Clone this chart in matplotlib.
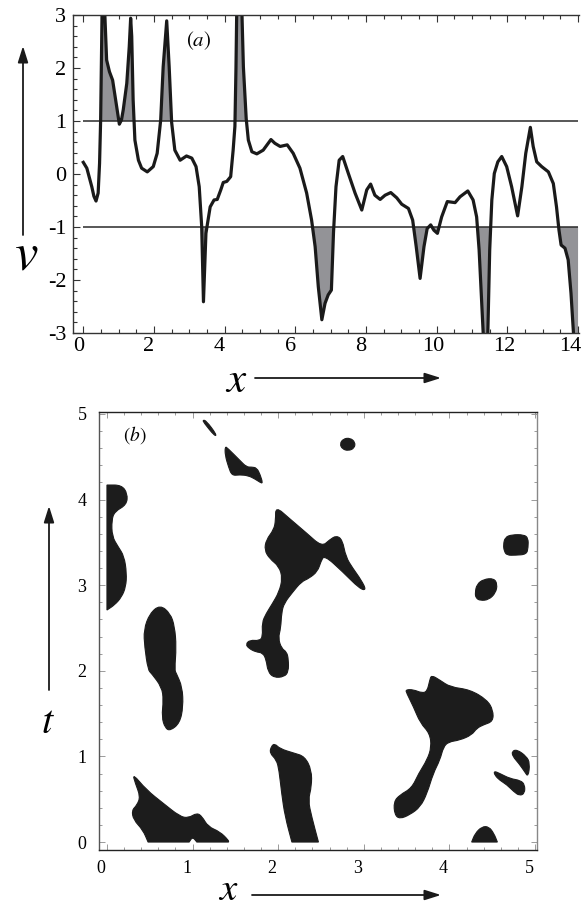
import numpy as np
import matplotlib.pyplot as plt
from matplotlib.patches import FancyArrowPatch, PathPatch
from matplotlib.path import Path
from matplotlib.transforms import ScaledTranslation

plt.rcParams['font.family'] = 'Liberation Serif'
plt.rcParams['mathtext.fontset'] = 'stix'

# ---- panel (a): v(x)
x_a = [0.00, 0.10, 0.24, 0.30, 0.36, 0.42, 0.46, 0.49, 0.53, 0.57, 0.61, 0.66,
       0.74, 0.83, 0.93, 1.02, 1.08, 1.13, 1.23, 1.30, 1.34, 1.37, 1.41, 1.46,
       1.56, 1.65, 1.81, 1.98, 2.09, 2.19, 2.26, 2.36, 2.43, 2.50, 2.59, 2.74,
       2.92, 3.07, 3.19, 3.28, 3.35, 3.40, 3.47, 3.59, 3.70, 3.79, 3.89, 3.96,
       4.06, 4.17, 4.24, 4.29, 4.32, 4.34, 4.41, 4.49, 4.53, 4.61, 4.67, 4.77,
       4.91, 5.09, 5.31, 5.42, 5.57, 5.77, 5.94, 6.13, 6.32, 6.46, 6.56, 6.65,
       6.75, 6.84, 6.93, 7.02, 7.08, 7.15, 7.24, 7.34, 7.50, 7.69, 7.88, 8.02,
       8.13, 8.25, 8.40, 8.54, 8.70, 8.87, 9.01, 9.20, 9.32, 9.42, 9.53, 9.64,
       9.73, 9.83, 9.92, 10.02, 10.14, 10.30, 10.52, 10.66, 10.88, 11.03, 11.13,
       11.20, 11.27, 11.33, 11.38, 11.44, 11.50, 11.56, 11.63, 11.73, 11.84,
       11.98, 12.12, 12.29, 12.41, 12.52, 12.65, 12.73, 12.83, 12.97, 13.16,
       13.30, 13.39, 13.46, 13.52, 13.63, 13.72, 13.80, 13.87, 13.94, 14.00]
v_a = [0.22, 0.11, -0.24, -0.42, -0.51, -0.36, 0.20, 1.00, 3.00, 4.30, 3.00, 2.15,
       1.93, 1.77, 1.33, 0.94, 1.02, 1.21, 1.71, 2.40, 2.94, 2.60, 1.40, 0.64,
       0.26, 0.11, 0.04, 0.14, 0.39, 1.02, 2.02, 2.89, 2.02, 0.97, 0.45, 0.26,
       0.34, 0.30, 0.14, -0.24, -0.99, -2.41, -1.12, -0.62, -0.49, -0.48, -0.30, -0.16,
       -0.14, -0.05, 0.45, 0.90, 2.00, 3.00, 5.00, 3.00, 2.02, 1.04, 0.64, 0.42,
       0.38, 0.45, 0.65, 0.58, 0.52, 0.55, 0.39, 0.11, -0.36, -0.87, -1.37, -2.13,
       -2.75, -2.44, -2.28, -2.19, -1.10, -0.24, 0.26, 0.33, 0.01, -0.36, -0.68, -0.30,
       -0.19, -0.40, -0.48, -0.40, -0.35, -0.45, -0.57, -0.65, -0.87, -1.37, -1.97, -1.37,
       -1.03, -0.96, -1.06, -1.12, -0.81, -0.52, -0.54, -0.43, -0.32, -0.49, -0.81,
       -1.43, -2.38, -3.20, -4.00, -3.20, -1.43, -0.49, 0.01, 0.23, 0.33,
       0.14, -0.24, -0.79, -0.24, 0.39, 0.88, 0.52, 0.23, 0.14, 0.04,
       -0.18, -0.62, -1.06, -1.34, -1.40, -1.62, -2.25, -3.00, -3.80, -4.30]
thresholds = [1, -1]
xticks_a = [0, 2, 4, 6, 8, 10, 12, 14]
yticks_a = [-3, -2, -1, 0, 1, 2, 3]
ylabels_a = ['-3', '-2', '-1', '0', '1', '2', '3']

# ---- panel (b): black regions, outlines as (x, t) points
blob_left = [(0.00, 4.17), (0.17, 4.17), (0.24, 4.07), (0.23, 3.94), (0.09, 3.86),
             (0.055, 3.76), (0.06, 3.57), (0.13, 3.45), (0.20, 3.34), (0.23, 3.14),
             (0.22, 2.98), (0.17, 2.86), (0.09, 2.77), (0.00, 2.71)]
blob_mid_left = [(0.62, 2.77), (0.50, 2.67), (0.43, 2.48), (0.44, 2.28), (0.48, 2.01),
                 (0.52, 1.97), (0.64, 1.81), (0.66, 1.66), (0.64, 1.46), (0.68, 1.33),
                 (0.74, 1.30), (0.85, 1.39), (0.89, 1.58), (0.88, 1.81), (0.81, 1.97),
                 (0.79, 2.01), (0.81, 2.28), (0.79, 2.52), (0.74, 2.67)]
blob_low_left = [(0.30, 0.80), (0.46, 0.61), (0.66, 0.45), (0.85, 0.30), (0.95, 0.28),
                 (1.05, 0.34), (1.11, 0.30), (1.18, 0.18), (1.32, 0.12), (1.42, 0.02),
                 (1.42, 0.00), (1.05, 0.00), (1.00, 0.06), (0.96, 0.00), (0.48, 0.00),
                 (0.42, 0.14), (0.31, 0.26), (0.29, 0.37), (0.35, 0.43), (0.39, 0.53),
                 (0.33, 0.69)]
blob_low_mid = [(1.96, 1.15), (2.02, 1.09), (2.18, 1.04), (2.31, 1.00), (2.39, 0.84),
                (2.39, 0.65), (2.35, 0.49), (2.39, 0.30), (2.47, 0.00), (2.16, 0.00),
                (2.08, 0.30), (2.04, 0.57), (2.01, 0.84), (1.98, 0.96), (1.90, 1.04),
                (1.92, 1.12)]
blob_centre = [(1.97, 3.92), (2.13, 3.78), (2.33, 3.61), (2.51, 3.45), (2.60, 3.53),
               (2.68, 3.58), (2.75, 3.53), (2.79, 3.33), (2.87, 3.20), (2.97, 3.06),
               (3.03, 2.94), (2.95, 2.96), (2.75, 3.16), (2.54, 3.35), (2.50, 3.28),
               (2.46, 3.16), (2.36, 3.08), (2.27, 3.04), (2.17, 2.92), (2.07, 2.79),
               (2.04, 2.68), (2.03, 2.50), (2.00, 2.38), (2.04, 2.26), (2.10, 2.22),
               (2.12, 2.13), (2.12, 1.99), (2.07, 1.93), (1.95, 1.92), (1.88, 1.99),
               (1.86, 2.13), (1.82, 2.21), (1.74, 2.22), (1.66, 2.26), (1.62, 2.31),
               (1.67, 2.36), (1.78, 2.35), (1.82, 2.40), (1.81, 2.56), (1.86, 2.67),
               (1.93, 2.78), (2.01, 2.92), (2.05, 3.08), (2.01, 3.22), (1.90, 3.31),
               (1.84, 3.41), (1.86, 3.53), (1.95, 3.65), (1.97, 3.76)]
blob_sliver = [(1.12, 4.93), (1.16, 4.92), (1.28, 4.76), (1.26, 4.74), (1.13, 4.90)]
blob_diag = [(1.38, 4.62), (1.41, 4.60), (1.55, 4.46), (1.63, 4.38), (1.69, 4.38),
             (1.75, 4.37), (1.79, 4.29), (1.82, 4.19), (1.79, 4.20), (1.73, 4.24),
             (1.65, 4.28), (1.55, 4.29), (1.46, 4.28), (1.42, 4.38), (1.38, 4.52)]
blob_dot = [(2.72, 4.65), (2.76, 4.71), (2.84, 4.72), (2.90, 4.67), (2.89, 4.60),
            (2.82, 4.57), (2.75, 4.59)]
blob_square = [(4.63, 3.47), (4.65, 3.56), (4.73, 3.59), (4.87, 3.59), (4.92, 3.55),
               (4.92, 3.44), (4.90, 3.36), (4.77, 3.35), (4.67, 3.35), (4.64, 3.40)]
blob_diamond = [(4.30, 2.91), (4.32, 3.01), (4.40, 3.07), (4.52, 3.08), (4.56, 3.01),
                (4.54, 2.91), (4.46, 2.83), (4.36, 2.82), (4.31, 2.85)]
blob_right = [(3.79, 1.95), (3.89, 1.89), (4.01, 1.81), (4.24, 1.78), (4.44, 1.66),
              (4.51, 1.54), (4.51, 1.41), (4.40, 1.37), (4.32, 1.33), (4.26, 1.25),
              (4.12, 1.19), (3.99, 1.17), (3.93, 1.11), (3.89, 0.96), (3.81, 0.80),
              (3.74, 0.57), (3.66, 0.41), (3.54, 0.32), (3.42, 0.27), (3.36, 0.32),
              (3.35, 0.47), (3.42, 0.55), (3.56, 0.63), (3.64, 0.80), (3.74, 0.96),
              (3.79, 1.11), (3.77, 1.27), (3.66, 1.39), (3.58, 1.58), (3.50, 1.74),
              (3.49, 1.78), (3.58, 1.78), (3.68, 1.74), (3.74, 1.76), (3.77, 1.89)]
blob_edge_top = [(4.73, 1.06), (4.79, 1.08), (4.90, 1.00), (4.94, 0.92), (4.92, 0.76),
                 (4.88, 0.82), (4.81, 0.92), (4.74, 1.00)]
blob_edge_low = [(4.52, 0.83), (4.59, 0.80), (4.71, 0.74), (4.83, 0.72), (4.88, 0.67),
                 (4.88, 0.57), (4.82, 0.54), (4.75, 0.59), (4.67, 0.67), (4.59, 0.72),
                 (4.53, 0.78)]
blob_dome = [(4.26, 0.00), (4.30, 0.10), (4.38, 0.18), (4.46, 0.18), (4.52, 0.10),
             (4.56, 0.00)]
blobs = [blob_left, blob_mid_left, blob_low_left, blob_low_mid, blob_centre,
         blob_sliver, blob_diag, blob_dot, blob_square, blob_diamond, blob_right,
         blob_edge_top, blob_edge_low, blob_dome]
ticks_b = [0, 1, 2, 3, 4, 5]

W, H = 584, 913
fig = plt.figure(figsize=(W / 100, H / 100), dpi=100)


def frac(px, py):
    return px / W, 1 - py / H


def smooth_outline(pts):
    # quadratic bezier outline: read points act as control points,
    # points on the data edge (x=0 or t=0) stay sharp corners
    p = np.array(pts, dtype=float)
    n = len(p)
    mids = (p + np.roll(p, -1, axis=0)) / 2
    verts = [mids[-1]]
    codes = [Path.MOVETO]
    for i in range(n):
        verts += [p[i], mids[i]]
        if p[i, 0] <= 0.001 or p[i, 1] <= 0.001:
            codes += [Path.LINETO, Path.LINETO]
        else:
            codes += [Path.CURVE3, Path.CURVE3]
    verts.append(mids[-1])
    codes.append(Path.CLOSEPOLY)
    return Path(verts, codes)


def shift(lbl, dx):
    lbl.set_transform(lbl.get_transform() + ScaledTranslation(dx / 100, 0, fig.dpi_scale_trans))


# ---------------- panel (a)
ax = fig.add_axes([73.3 / W, 1 - 333 / H, (579.3 - 73.3) / W, (333 - 15) / H])
xa = np.array(x_a)
va = np.array(v_a)
ax.fill_between(xa, va, 1, where=va > 1, interpolate=True, color='#939397', lw=0)
ax.fill_between(xa, va, -1, where=va < -1, interpolate=True, color='#939397', lw=0)
ax.hlines(thresholds, 0, 14, color='#2a2a2a', lw=1.1)
ax.plot(xa, va, color='#1a1a1a', lw=2.3, solid_joinstyle='round')
ax.set_xlim(-0.283, 14.035)
ax.set_ylim(-3, 3)
ax.set_xticks(xticks_a)
ax.set_xticks(np.arange(0, 14.01, 0.5), minor=True)
ax.set_yticks(yticks_a)
ax.set_yticklabels(ylabels_a)
ax.set_yticks(np.arange(-3, 3.01, 0.2), minor=True)
ax.tick_params(which='both', direction='in', top=True, right=False,
               color='#333333', width=0.8, labelsize=16)
ax.tick_params(which='major', length=5)
ax.tick_params(which='minor', length=3)
ax.tick_params(axis='x', pad=3)
ax.tick_params(axis='y', pad=5)
ax.spines['right'].set_visible(False)
for s in ['left', 'top', 'bottom']:
    ax.spines[s].set_color('#333333')
    ax.spines[s].set_linewidth(1.0)
for lbl in ax.get_xticklabels():
    txt = lbl.get_text()
    shift(lbl, -8 if txt == '14' else (-5 if len(txt) == 1 else -3))
fig.text(*frac(199, 41), r'$(\mathit{a})$', fontsize=15, ha='center', va='center')
fig.text(*frac(26, 270), r'$v$', fontsize=38, ha='center', va='baseline')
fig.text(*frac(236, 392), r'$x$', fontsize=31, ha='center', va='baseline')

# ---------------- panel (b)
bx = fig.add_axes([99 / W, 1 - 850 / H, (537 - 99) / W, (850 - 412) / H])
for pts in blobs:
    bx.add_patch(PathPatch(smooth_outline(pts), facecolor='#1c1c1c',
                           edgecolor='#1c1c1c', lw=0.8))
bx.set_xlim(-0.093, 5.023)
bx.set_ylim(-0.093, 5.023)
bx.set_xticks(ticks_b)
bx.set_yticks(ticks_b)
bx.set_xticks(np.arange(0, 5.01, 0.2), minor=True)
bx.set_yticks(np.arange(0, 5.01, 0.2), minor=True)
bx.tick_params(which='both', direction='in', top=True, right=True,
               color='#9a9a9a', width=0.7, labelsize=13)
bx.tick_params(which='major', length=4)
bx.tick_params(which='minor', length=2)
bx.tick_params(axis='x', pad=7)
bx.tick_params(axis='y', pad=9)
bx.spines['top'].set_color('#222222')
bx.spines['bottom'].set_color('#222222')
bx.spines['left'].set_color('#555555')
bx.spines['right'].set_color('#888888')
for s in bx.spines.values():
    s.set_linewidth(1.0)
for lbl in bx.get_xticklabels():
    shift(lbl, -6)
fig.text(*frac(135, 435), r'$(\mathit{b})$', fontsize=14, ha='center', va='center')
fig.text(*frac(48, 733), r'$t$', fontsize=29, ha='center', va='baseline')
fig.text(*frac(228, 900), r'$x$', fontsize=28, ha='center', va='baseline')

# ---------------- arrows
arrow_style = '-|>,head_length=0.7,head_width=0.22'
for a, b in [((23, 235), (23, 46)), ((255, 378), (441, 378)),
             ((49, 690), (49, 506)), ((252, 895), (441, 895))]:
    fig.add_artist(FancyArrowPatch(frac(*a), frac(*b), transform=fig.transFigure,
                                   arrowstyle=arrow_style, mutation_scale=14,
                                   lw=1.3, color='#1a1a1a', shrinkA=0, shrinkB=0))

fig.savefig('out.png', dpi=100)
